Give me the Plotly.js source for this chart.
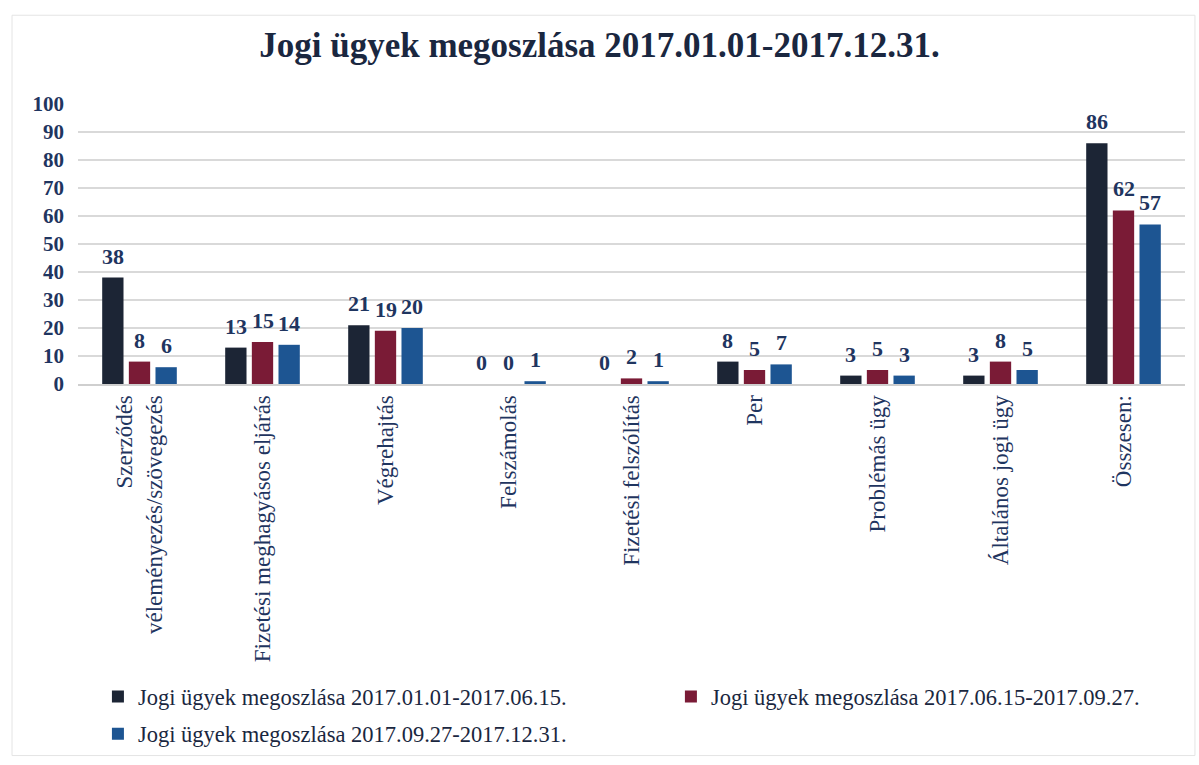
<!DOCTYPE html>
<html>
<head>
<meta charset="utf-8">
<script src="https://cdn.plot.ly/plotly-3.0.1.min.js"></script>
<style>html,body{margin:0;padding:0;background:#fff;}#chart{width:1199px;height:765px;}</style>
</head>
<body>
<div id="chart"></div>
<script>
const categories = [
  "Szerződés<br>véleményezés/szövegezés",
  "Fizetési meghagyásos eljárás",
  "Végrehajtás",
  "Felszámolás",
  "Fizetési felszólítás",
  "Per",
  "Problémás ügy",
  "Általános jogi ügy",
  "Összesen:"
];
const seriesNames = [
  "Jogi ügyek megoszlása 2017.01.01-2017.06.15.",
  "Jogi ügyek megoszlása 2017.06.15-2017.09.27.",
  "Jogi ügyek megoszlása 2017.09.27-2017.12.31."
];
const period1 = [38, 13, 21, 0, 0, 8, 3, 3, 86];
const period2 = [8, 15, 19, 0, 2, 5, 5, 8, 62];
const period3 = [6, 14, 20, 1, 1, 7, 3, 5, 57];
const colors = ["#1c2535", "#7a1b36", "#1d5592"];

const serif = "Liberation Serif, Times New Roman, serif";
const navy = "#1f3560";

const W = 1199, H = 765;
const M = {l: 78, r: 14, t: 104, b: 380};
const BARGAP = 0.35, BARGROUPGAP = 0.2;

const allSeries = [period1, period2, period3];
const legendOf = ["legend", "legend2", "legend"];
const traces = allSeries.map((vals, i) => ({
  type: "bar",
  name: seriesNames[i],
  x: categories,
  y: vals,
  marker: {color: colors[i]},
  legend: legendOf[i],
  legendgroup: "g" + i,
  hoverinfo: "x+y"
}));

// value labels placed above each bar, offset to its slot within the group
const plotW = W - M.l - M.r;
const slot = (plotW / categories.length) * (1 - BARGAP) / allSeries.length;
const annotations = [];
allSeries.forEach((vals, i) => {
  vals.forEach((v, j) => {
    annotations.push({
      x: categories[j], y: v, xref: "x", yref: "y",
      text: String(v), showarrow: false,
      xanchor: "center", yanchor: "bottom",
      xshift: (i - (allSeries.length - 1) / 2) * slot,
      yshift: 7,
      font: {family: serif, size: 22, color: navy, weight: "bold"}
    });
  });
});

const legendFont = {family: serif, size: 22.5, color: "#1a2740"};
const layout = {
  width: W,
  height: H,
  paper_bgcolor: "#ffffff",
  plot_bgcolor: "#ffffff",
  margin: M,
  title: {
    text: "<b>Jogi ügyek megoszlása 2017.01.01-2017.12.31.</b>",
    font: {family: serif, size: 35, color: "#1a2740"},
    x: 0.5, xanchor: "center",
    y: 0.942, yanchor: "middle", yref: "container"
  },
  barmode: "group",
  bargap: BARGAP,
  bargroupgap: BARGROUPGAP,
  xaxis: {
    type: "category",
    tickangle: -90,
    tickfont: {family: serif, size: 23, color: navy},
    showline: true,
    linecolor: "#cfcfcf",
    linewidth: 2,
    ticks: "",
    showgrid: false,
    automargin: false
  },
  yaxis: {
    range: [0, 100],
    dtick: 10,
    tickfont: {family: serif, size: 21, color: navy, weight: "bold"},
    ticklabelstandoff: 13,
    showgrid: true,
    gridcolor: "#d9d9d9",
    gridwidth: 1.5,
    zeroline: false,
    showline: false,
    ticks: "",
    automargin: false
  },
  showlegend: true,
  legend: {
    orientation: "v",
    x: 0.018, xanchor: "left",
    y: -1.033, yanchor: "top",
    itemwidth: 30,
    font: legendFont,
    tracegroupgap: 5,
    traceorder: "grouped",
    bgcolor: "rgba(0,0,0,0)"
  },
  legend2: {
    orientation: "v",
    x: 0.5356, xanchor: "left",
    y: -1.033, yanchor: "top",
    itemwidth: 30,
    font: legendFont,
    bgcolor: "rgba(0,0,0,0)"
  },
  annotations: annotations,
  shapes: [{
    type: "rect", xref: "paper", yref: "paper",
    x0: -0.0596, x1: 1.009, y0: -1.327, y1: 1.317,
    line: {color: "#e4e4e4", width: 1}
  }]
};

Plotly.newPlot("chart", traces, layout, {displayModeBar: false, staticPlot: true});
</script>
</body>
</html>
